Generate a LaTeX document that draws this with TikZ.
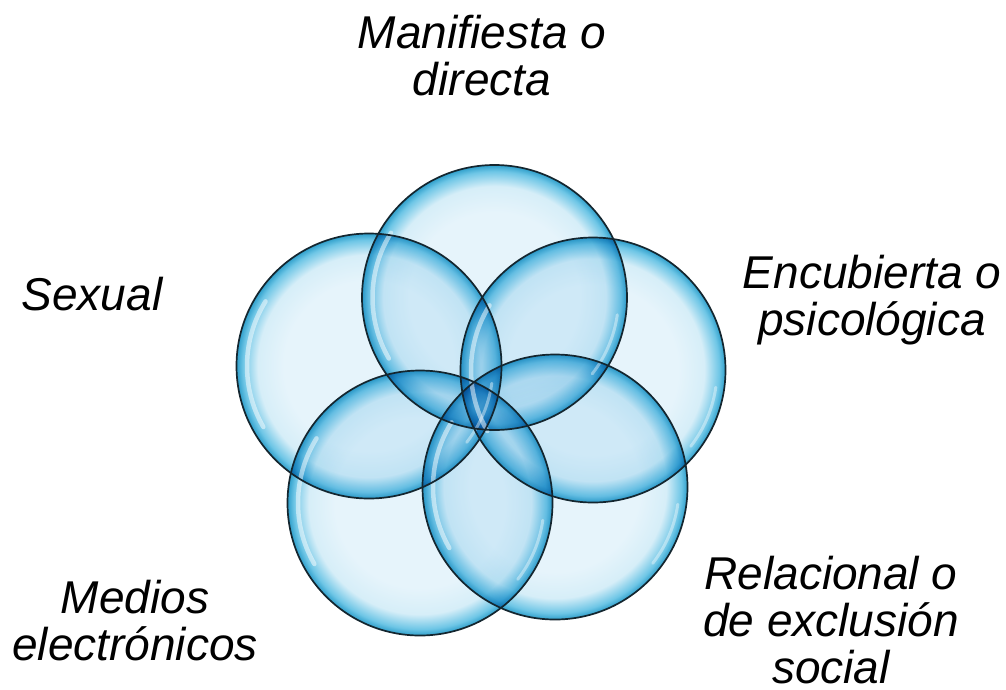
\documentclass[tikz,border=0pt]{standalone}
\usepackage{fontspec}
\setmainfont{Liberation Sans}
\definecolor{bin}{HTML}{E6F4FB}
\definecolor{bmid}{HTML}{D6EEF8}
\definecolor{brim}{HTML}{6EC6E6}
\definecolor{bedge}{HTML}{2F9FCB}
\definecolor{ringc}{HTML}{14262F}
\pgfdeclareradialshading{bubble}{\pgfpoint{0bp}{0bp}}{color(0bp)=(bin); color(16bp)=(bin); color(21bp)=(bmid); color(23.8bp)=(brim); color(25bp)=(bedge); color(50bp)=(bedge)}
\begin{document}
\begin{tikzpicture}[x=1pt,y=-1pt,
  lbl/.style={font=\fontsize{46}{47}\selectfont\itshape, align=center, anchor=base, inner sep=0pt},
  ring/.style={draw=ringc, line width=1.7pt},
  glint/.style={draw=white, line width=4.5pt, line cap=round, opacity=0.5}]
\useasboundingbox (0,0) rectangle (1006,689);
\coordinate (ct) at (494.5,297.5);
\coordinate (cl) at (369,366);
\coordinate (cr) at (593,370);
\coordinate (cbl) at (420,503);
\coordinate (cbr) at (555,487);
\begin{scope}[blend group=multiply]
  \foreach \c in {ct,cl,cr,cbl,cbr}
    \shade[shading=bubble] (\c) circle[radius=132.5pt];
\end{scope}
\foreach \c in {ct,cl,cr,cbl,cbr}{
  \draw[glint] ([shift={(148:122pt)}]\c) arc[start angle=148, end angle=210, radius=122pt];
  \draw[glint, opacity=0.4, line width=3pt] ([shift={(-8:124pt)}]\c) arc[start angle=-8, end angle=-38, radius=124pt];
}
\foreach \c in {ct,cl,cr,cbl,cbr}
  \draw[ring] (\c) circle[radius=132.5pt];
\node[lbl] (manif) at (482,95) {Manifiesta o\\directa};
\node[lbl] (sex) at (92,310) {Sexual};
\node[lbl] (encub) at (872,335) {Encubierta o\\psicológica};
\node[lbl] (relac) at (831,683) {Relacional o\\de exclusión\\social};
\node[lbl] (medios) at (135,660) {Medios\\electrónicos};
\end{tikzpicture}
\end{document}
